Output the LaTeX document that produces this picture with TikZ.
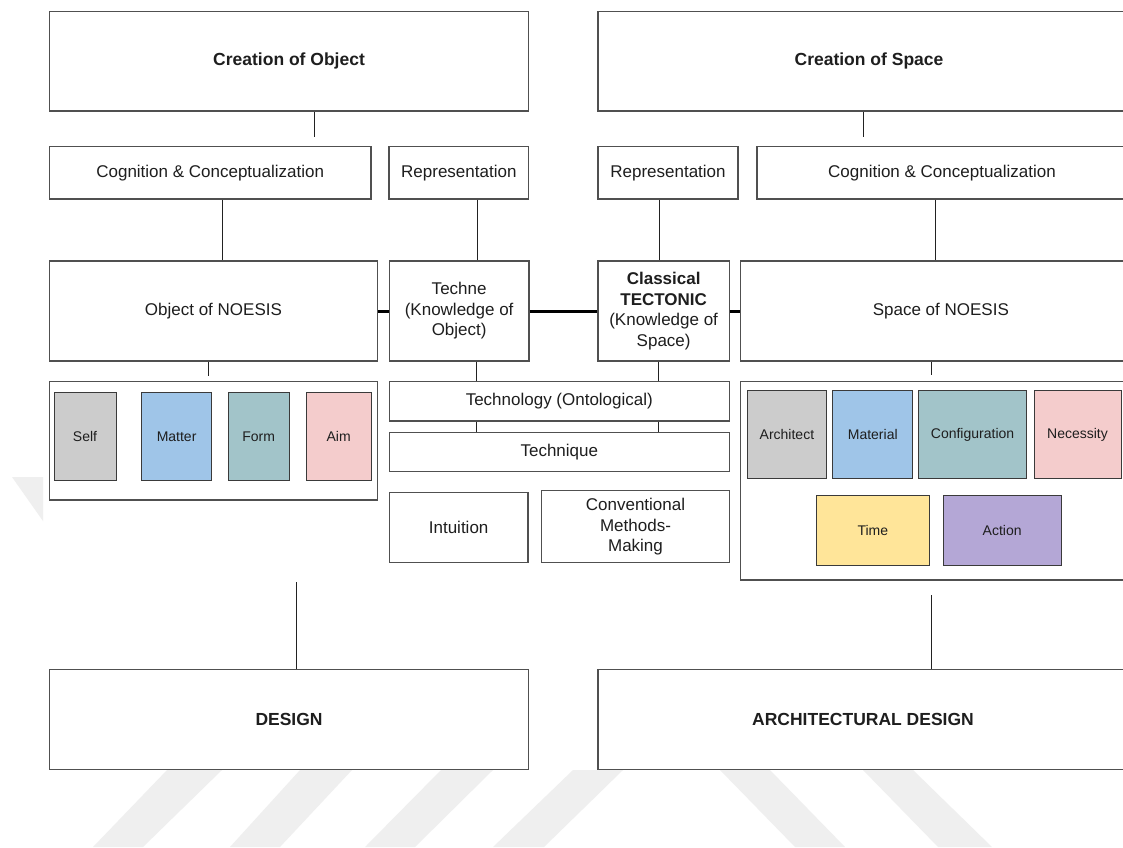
\documentclass[tikz,border=0pt]{standalone}
\usepackage{fontspec}
\setmainfont{Liberation Sans}
\definecolor{boxline}{HTML}{505050}
\definecolor{chipline}{HTML}{3A3A3A}
\definecolor{linkc}{HTML}{222222}
\definecolor{txt}{HTML}{1E1E1E}
\definecolor{wmgray}{HTML}{EFEFEF}
\definecolor{cself}{HTML}{CCCCCC}
\definecolor{cmatter}{HTML}{9FC5E8}
\definecolor{cform}{HTML}{A2C4C9}
\definecolor{caim}{HTML}{F4CCCC}
\definecolor{ctime}{HTML}{FFE599}
\definecolor{caction}{HTML}{B4A7D6}

% box from its corners: name, x1, y1, x2, y2, style, text
\newcommand{\placebox}[7]{%
  \pgfmathsetmacro{\pbcx}{(#2+#4)/2}%
  \pgfmathsetmacro{\pbcy}{(#3+#5)/2}%
  \pgfmathsetmacro{\pbw}{#4-#2}%
  \pgfmathsetmacro{\pbh}{#5-#3}%
  \node[#6, minimum width=\pbw pt, minimum height=\pbh pt] (#1) at (\pbcx,\pbcy) {#7};}

\begin{document}
\begin{tikzpicture}[x=1pt,y=-1pt,
  box/.style={draw=boxline, line width=1.3pt, fill=white, inner sep=0pt, align=center,
    font=\fontsize{17}{20.5}\selectfont, text=txt},
  titlebox/.style={box, font=\fontsize{17.5}{21}\selectfont\bfseries},
  chip/.style={draw=chipline, line width=1pt, inner sep=0pt, align=center,
    font=\fontsize{14}{17}\selectfont, text=txt},
  link/.style={draw=linkc, line width=0.9pt},
  bond/.style={draw=black, line width=3pt},
  wm/.style={fill=wmgray, draw=none}]

\useasboundingbox (0,0) rectangle (1123,847);
\clip (0,0) rectangle (1123,847);
\fill[white] (0,0) rectangle (1123,847);

% faint background stripes
\fill[wm] (12,477) -- (43,477) -- (43,521) -- cycle;
\fill[wm] (167,770) -- (222,770) -- (143,847) -- (93,847) -- cycle;
\fill[wm] (300,770) -- (352,770) -- (280,847) -- (230,847) -- cycle;
\fill[wm] (441,770) -- (493,770) -- (415,847) -- (365,847) -- cycle;
\fill[wm] (573,770) -- (623,770) -- (544,847) -- (493,847) -- cycle;
\fill[wm] (720,770) -- (770,770) -- (845,847) -- (795,847) -- cycle;
\fill[wm] (863,770) -- (913,770) -- (992,847) -- (938,847) -- cycle;

% top row
\placebox{cobj}{49.4}{11.7}{528.7}{111}{titlebox}{Creation of Object}
\placebox{cspace}{598}{11.7}{1140}{111}{titlebox}{Creation of Space}

% second row
\placebox{cogL}{49.4}{146.7}{371}{199}{box}{Cognition \& Conceptualization}
\placebox{repL}{389}{146.7}{528.7}{199}{box}{Representation}
\placebox{repR}{598}{146.7}{738}{199}{box}{Representation}
\placebox{cogR}{757}{146.7}{1127}{199}{box}{Cognition \& Conceptualization}

% third row
\placebox{noeL}{49.4}{261}{377.5}{361}{box}{Object of NOESIS}
\placebox{techne}{389.3}{261}{529}{361}{box}{Techne\\(Knowledge of\\Object)}
\placebox{tecton}{598}{261}{729.3}{361}{box}{\textbf{Classical}\\\textbf{TECTONIC}\\(Knowledge of\\Space)}
\placebox{noeR}{740.7}{261}{1141}{361}{box}{Space of NOESIS}

% left group
\placebox{grpL}{49.4}{381.7}{377.5}{500}{box}{}
\placebox{self}{54}{392.7}{116}{480.3}{chip, fill=cself}{Self}
\placebox{matter}{141.8}{392.7}{211.4}{480.3}{chip, fill=cmatter}{Matter}
\placebox{form}{228.2}{392.7}{289}{480.3}{chip, fill=cform}{Form}
\placebox{aim}{306}{392.7}{371.4}{480.3}{chip, fill=caim}{Aim}

% middle column
\placebox{tlogy}{389.3}{381.7}{729.3}{421}{box}{Technology (Ontological)}
\placebox{tnique}{389.3}{432.5}{729.3}{471.3}{box}{Technique}
\placebox{intu}{389.3}{492.3}{528}{562.7}{box}{Intuition}
\placebox{conv}{541.7}{490.7}{729.3}{562.7}{box}{Conventional\\Methods-\\Making}

% right group
\placebox{grpR}{740.7}{381.7}{1130}{580}{box}{}
\placebox{archt}{747.4}{390.7}{826.4}{478.3}{chip, fill=cself}{Architect}
\placebox{material}{832.9}{390.7}{912.6}{478.3}{chip, fill=cmatter}{Material}
\placebox{config}{918.3}{390.7}{1026.8}{478.3}{chip, fill=cform}{Configuration}
\placebox{necess}{1034}{390.7}{1121}{478.3}{chip, fill=caim}{Necessity}
\placebox{time}{816.7}{495.7}{929}{565.3}{chip, fill=ctime}{Time}
\placebox{action}{943}{495.7}{1061.3}{565.3}{chip, fill=caction}{Action}

% bottom row
\placebox{design}{49.4}{669.3}{528.7}{769.3}{titlebox}{DESIGN}
\placebox{archd}{598}{669.3}{1128}{769.3}{titlebox}{ARCHITECTURAL DESIGN}

% connector anchors
\coordinate (k1) at (314,137);
\coordinate (k2) at (863,137);
\coordinate (k3) at (222,0);
\coordinate (k4) at (477,0);
\coordinate (k5) at (659,0);
\coordinate (k6) at (935,0);
\coordinate (k7) at (208.6,376);
\coordinate (k8) at (931,375);
\coordinate (k9) at (476,0);
\coordinate (k10) at (658.7,0);
\coordinate (k11) at (296,582);
\coordinate (k12) at (931,595);

% connectors
\draw[link] (cobj.south -| k1) -- (k1);
\draw[link] (cspace.south -| k2) -- (k2);
\draw[link] (cogL.south -| k3) -- (noeL.north -| k3);
\draw[link] (repL.south -| k4) -- (techne.north -| k4);
\draw[link] (repR.south -| k5) -- (tecton.north -| k5);
\draw[link] (cogR.south -| k6) -- (noeR.north -| k6);
\draw[link] (noeL.south -| k7) -- (k7);
\draw[link] (noeR.south -| k8) -- (k8);
\draw[link] (techne.south -| k9) -- (tlogy.north -| k9);
\draw[link] (tlogy.south -| k9) -- (tnique.north -| k9);
\draw[link] (tecton.south -| k10) -- (tlogy.north -| k10);
\draw[link] (tlogy.south -| k10) -- (tnique.north -| k10);
\draw[link] (k11) -- (design.north -| k11);
\draw[link] (k12) -- (archd.north -| k12);

% heavy links between the knowledge boxes
\draw[bond] (noeL.east) -- (techne.west);
\draw[bond] (techne.east) -- (tecton.west);
\draw[bond] (tecton.east) -- (noeR.west);
\end{tikzpicture}
\end{document}
